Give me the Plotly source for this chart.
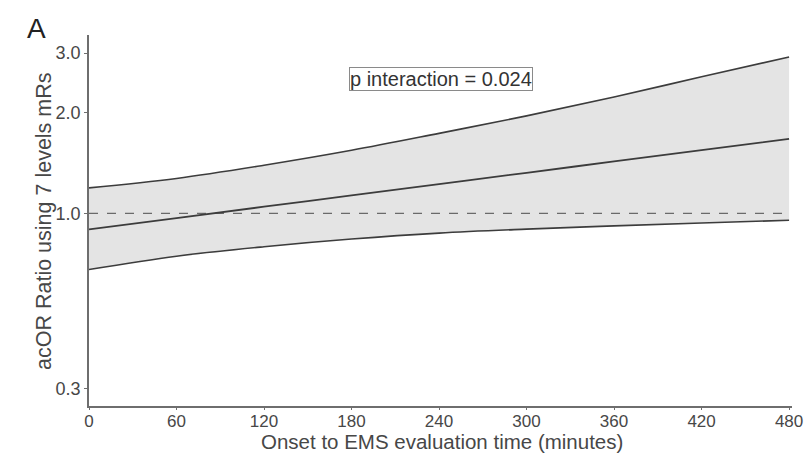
import math
import plotly.graph_objects as go

minutes = [0, 60, 120, 180, 240, 300, 360, 420, 480]
acor_ratio = [0.896, 0.968, 1.046, 1.131, 1.222, 1.320, 1.427, 1.542, 1.665]
ci_upper = [1.19, 1.27, 1.39, 1.54, 1.73, 1.95, 2.22, 2.55, 2.92]
ci_lower = [0.68, 0.745, 0.795, 0.838, 0.873, 0.897, 0.917, 0.936, 0.953]
y_ticks = [0.3, 1.0, 2.0, 3.0]
y_tick_labels = ["0.3", "1.0", "2.0", "3.0"]
x_ticks = [0, 60, 120, 180, 240, 300, 360, 420, 480]
p_text = "p interaction = 0.024"
x_title = "Onset to EMS evaluation time (minutes)"
y_title = "acOR Ratio using 7 levels mRs"
panel_label = "A"

line_col = "#3c3c3c"
fill_col = "#e4e4e4"
axis_col = "#6e6e6e"
text_col = "#474747"
font_fam = "Liberation Sans, Arial, sans-serif"

W, H = 810, 454
L, T, R, B = 89, 35, 18, 48
pw, ph = W - L - R, H - T - B


def px_to_paper(px, py):
    return (px - L) / pw, 1 - (py - T) / ph


fig = go.Figure()
fig.add_trace(go.Scatter(x=minutes, y=ci_lower, mode="lines",
                         line=dict(color=line_col, width=1.6, shape="spline", smoothing=1),
                         showlegend=False, hoverinfo="skip"))
fig.add_trace(go.Scatter(x=minutes, y=ci_upper, mode="lines",
                         line=dict(color=line_col, width=1.6, shape="spline", smoothing=1),
                         fill="tonexty", fillcolor=fill_col,
                         showlegend=False, hoverinfo="skip"))
fig.add_trace(go.Scatter(x=[0, 480], y=[1.0, 1.0], mode="lines",
                         line=dict(color="#6a6a6a", width=1.3, dash="dash"),
                         showlegend=False, hoverinfo="skip"))
fig.add_trace(go.Scatter(x=minutes, y=acor_ratio, mode="lines",
                         line=dict(color=line_col, width=1.8, shape="spline", smoothing=1),
                         showlegend=False, hoverinfo="skip"))

ytx, yty = px_to_paper(44, 221)
xtx, xty = px_to_paper(442, 442)
ax, ay = px_to_paper(36, 28)

fig.update_layout(
    width=W, height=H,
    margin=dict(l=L, r=R, t=T, b=B, pad=0),
    paper_bgcolor="white", plot_bgcolor="white",
    font=dict(family=font_fam, color=text_col),
    xaxis=dict(range=[0, 482], tickvals=x_ticks, showgrid=False, zeroline=False,
               showline=True, linecolor=axis_col, linewidth=1.5,
               ticks="outside", ticklen=2, tickcolor=axis_col,
               ticklabelstandoff=-3, ticklabeloverflow="allow",
               tickfont=dict(size=17, color=text_col), automargin=False),
    yaxis=dict(type="log", range=[-0.574, 0.531], tickvals=y_ticks,
               ticktext=y_tick_labels, showgrid=False, zeroline=False,
               showline=True, linecolor=axis_col, linewidth=1.5,
               ticks="outside", ticklen=3, tickcolor=axis_col,
               ticklabeloverflow="allow",
               tickfont=dict(size=18, color=text_col), automargin=False),
    annotations=[
        # annotations on a log axis take log10 values
        dict(text=p_text, x=241, y=math.log10(2.506), xref="x", yref="y",
             showarrow=False, font=dict(size=20, color="#333333"),
             bordercolor="#8a8a8a", borderwidth=1, borderpad=0, bgcolor="white"),
        dict(text=panel_label, x=ax, y=ay, xref="paper", yref="paper", showarrow=False,
             font=dict(size=28, color="#222222"), xanchor="center", yanchor="middle"),
        dict(text=x_title, x=xtx, y=xty, xref="paper", yref="paper", showarrow=False,
             font=dict(size=20.5, color=text_col), xanchor="center", yanchor="middle"),
        dict(text=y_title, x=ytx, y=yty, xref="paper", yref="paper", showarrow=False,
             font=dict(size=21.5, color=text_col), xanchor="center", yanchor="middle",
             textangle=-90),
    ],
)

fig.write_html("out.html", config={"displayModeBar": False},
               post_script="document.body.style.margin='0px';"
                           "document.body.style.overflow='hidden';")
